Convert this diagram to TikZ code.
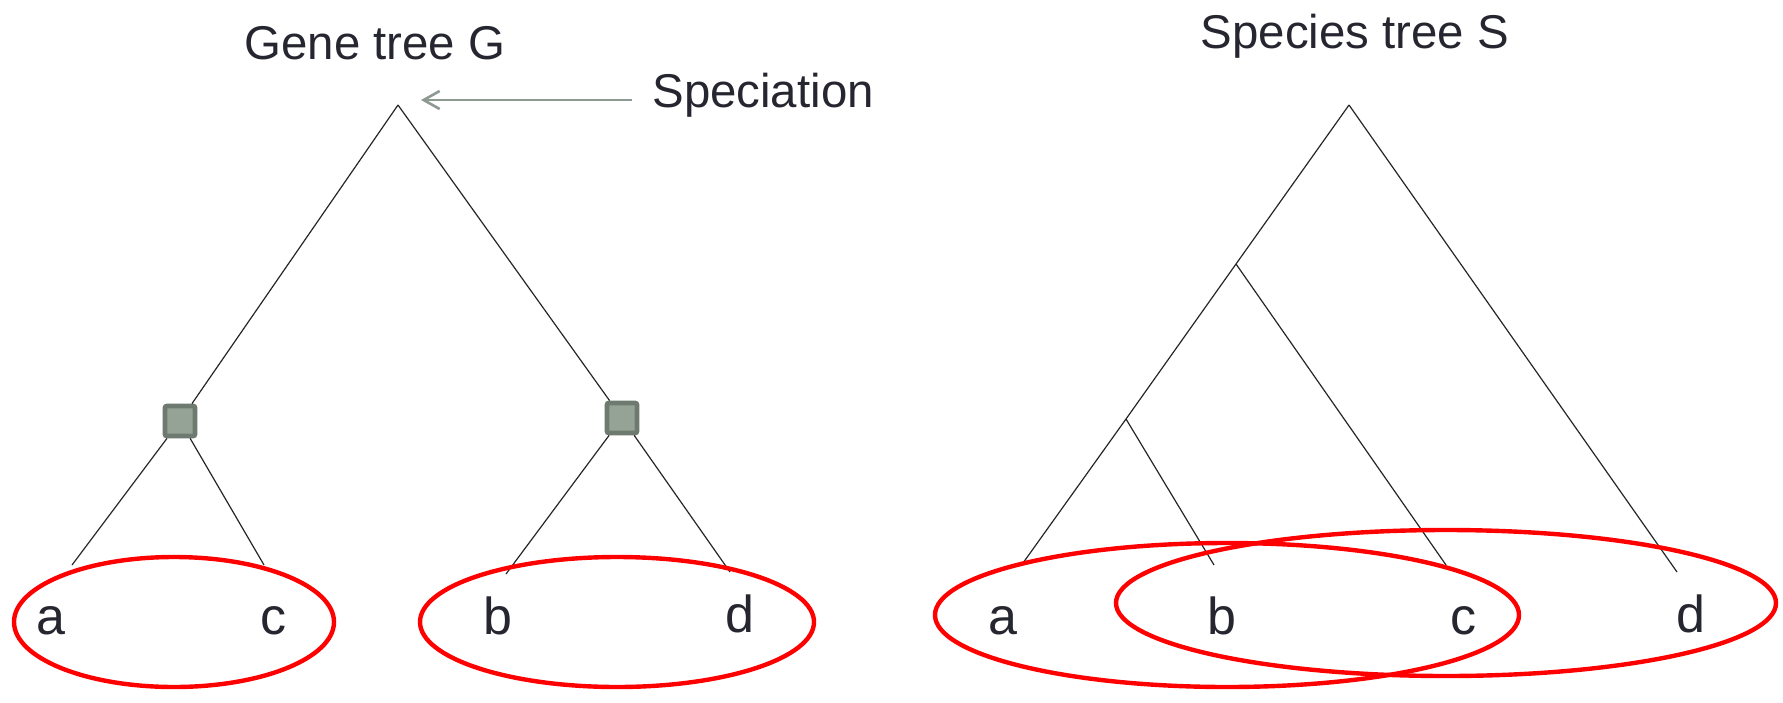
\documentclass[tikz,border=0pt]{standalone}
\usepackage{fontspec}
\setmainfont{Liberation Sans}
\usetikzlibrary{shapes,arrows,arrows.meta,positioning,calc}

\definecolor{txtdark}{HTML}{262630}
\definecolor{dupfill}{HTML}{95A396}
\definecolor{dupedge}{HTML}{6E7A70}
\definecolor{arrowgray}{HTML}{8C9A92}

\tikzset{
  branch/.style={line width=0.6pt, black!85},
  dup/.style={rectangle, minimum size=15pt, inner sep=0pt, fill=dupfill, draw=dupedge, line width=2.4pt, rounded corners=1pt},
  title/.style={text=txtdark, font=\fontsize{23.7}{28}\selectfont, inner sep=0pt, anchor=base},
  leaf/.style={text=txtdark, font=\fontsize{26}{30}\selectfont, inner sep=0pt, anchor=base},
  cluster/.style={red, line width=2.2pt}
}

\begin{document}
\begin{tikzpicture}[x=0.5pt, y=-0.5pt]
    \useasboundingbox (0,0) rectangle (1783,702);

    % Gene tree
    \node[title] (gtitle) at (375,59) {Gene tree G};
    \coordinate (groot) at (398,105);
    \node[dup] (gdupl) at (180,421) {};
    \node[dup] (gdupr) at (622,418) {};
    \coordinate (gaend) at (72,565);
    \coordinate (gcend) at (264,565);
    \coordinate (gbend) at (506,574);
    \coordinate (gdend) at (730,572);
    \draw[branch] (groot) -- (gdupl);
    \draw[branch] (groot) -- (gdupr);
    \draw[branch] (gdupl) -- (gaend);
    \draw[branch] (gdupl) -- (gcend);
    \draw[branch] (gdupr) -- (gbend);
    \draw[branch] (gdupr) -- (gdend);

    % Speciation pointer
    \node[text=txtdark, font=\fontsize{23.7}{28}\selectfont, anchor=west, inner xsep=10pt, inner ysep=0pt] (spec) at (632,95.5) {Speciation};
    \coordinate (spectip) at (421,100);
    \draw[-{Straight Barb[length=8pt, width=9pt]}, arrowgray, line width=1.3pt] (spec.west |- spectip) -- (spectip);

    % Gene leaves
    \node[leaf] (ga) at (51,634) {a};
    \node[leaf] (gc) at (273,634) {c};
    \node[leaf] (gb) at (498,634) {b};
    \node[leaf] (gd) at (740,632) {d};
    \draw[cluster] (174,622) ellipse (80pt and 32.5pt);
    \draw[cluster] (617,622) ellipse (98.5pt and 32.5pt);

    % Species tree
    \node[title] (stitle) at (1355,48) {Species tree S};
    \coordinate (sroot) at (1349,105);
    \coordinate (sabc) at (1236,264);
    \coordinate (sab) at (1126,419);
    \coordinate (saend) at (1023,563);
    \coordinate (sbend) at (1214,565);
    \coordinate (scend) at (1446,565);
    \coordinate (sdend) at (1677,572);
    \draw[branch] (sroot) -- (sabc) -- (sab) -- (saend);
    \draw[branch] (sroot) -- (sdend);
    \draw[branch] (sabc) -- (scend);
    \draw[branch] (sab) -- (sbend);

    % Species leaves
    \node[leaf] (sa) at (1003,634) {a};
    \node[leaf] (sb) at (1222,634) {b};
    \node[leaf] (sc) at (1463,634) {c};
    \node[leaf] (sd) at (1691,632) {d};
    \draw[cluster] (1227,615) ellipse (146pt and 36pt);
    \draw[cluster] (1446,603) ellipse (165pt and 36.5pt);
\end{tikzpicture}
\end{document}
